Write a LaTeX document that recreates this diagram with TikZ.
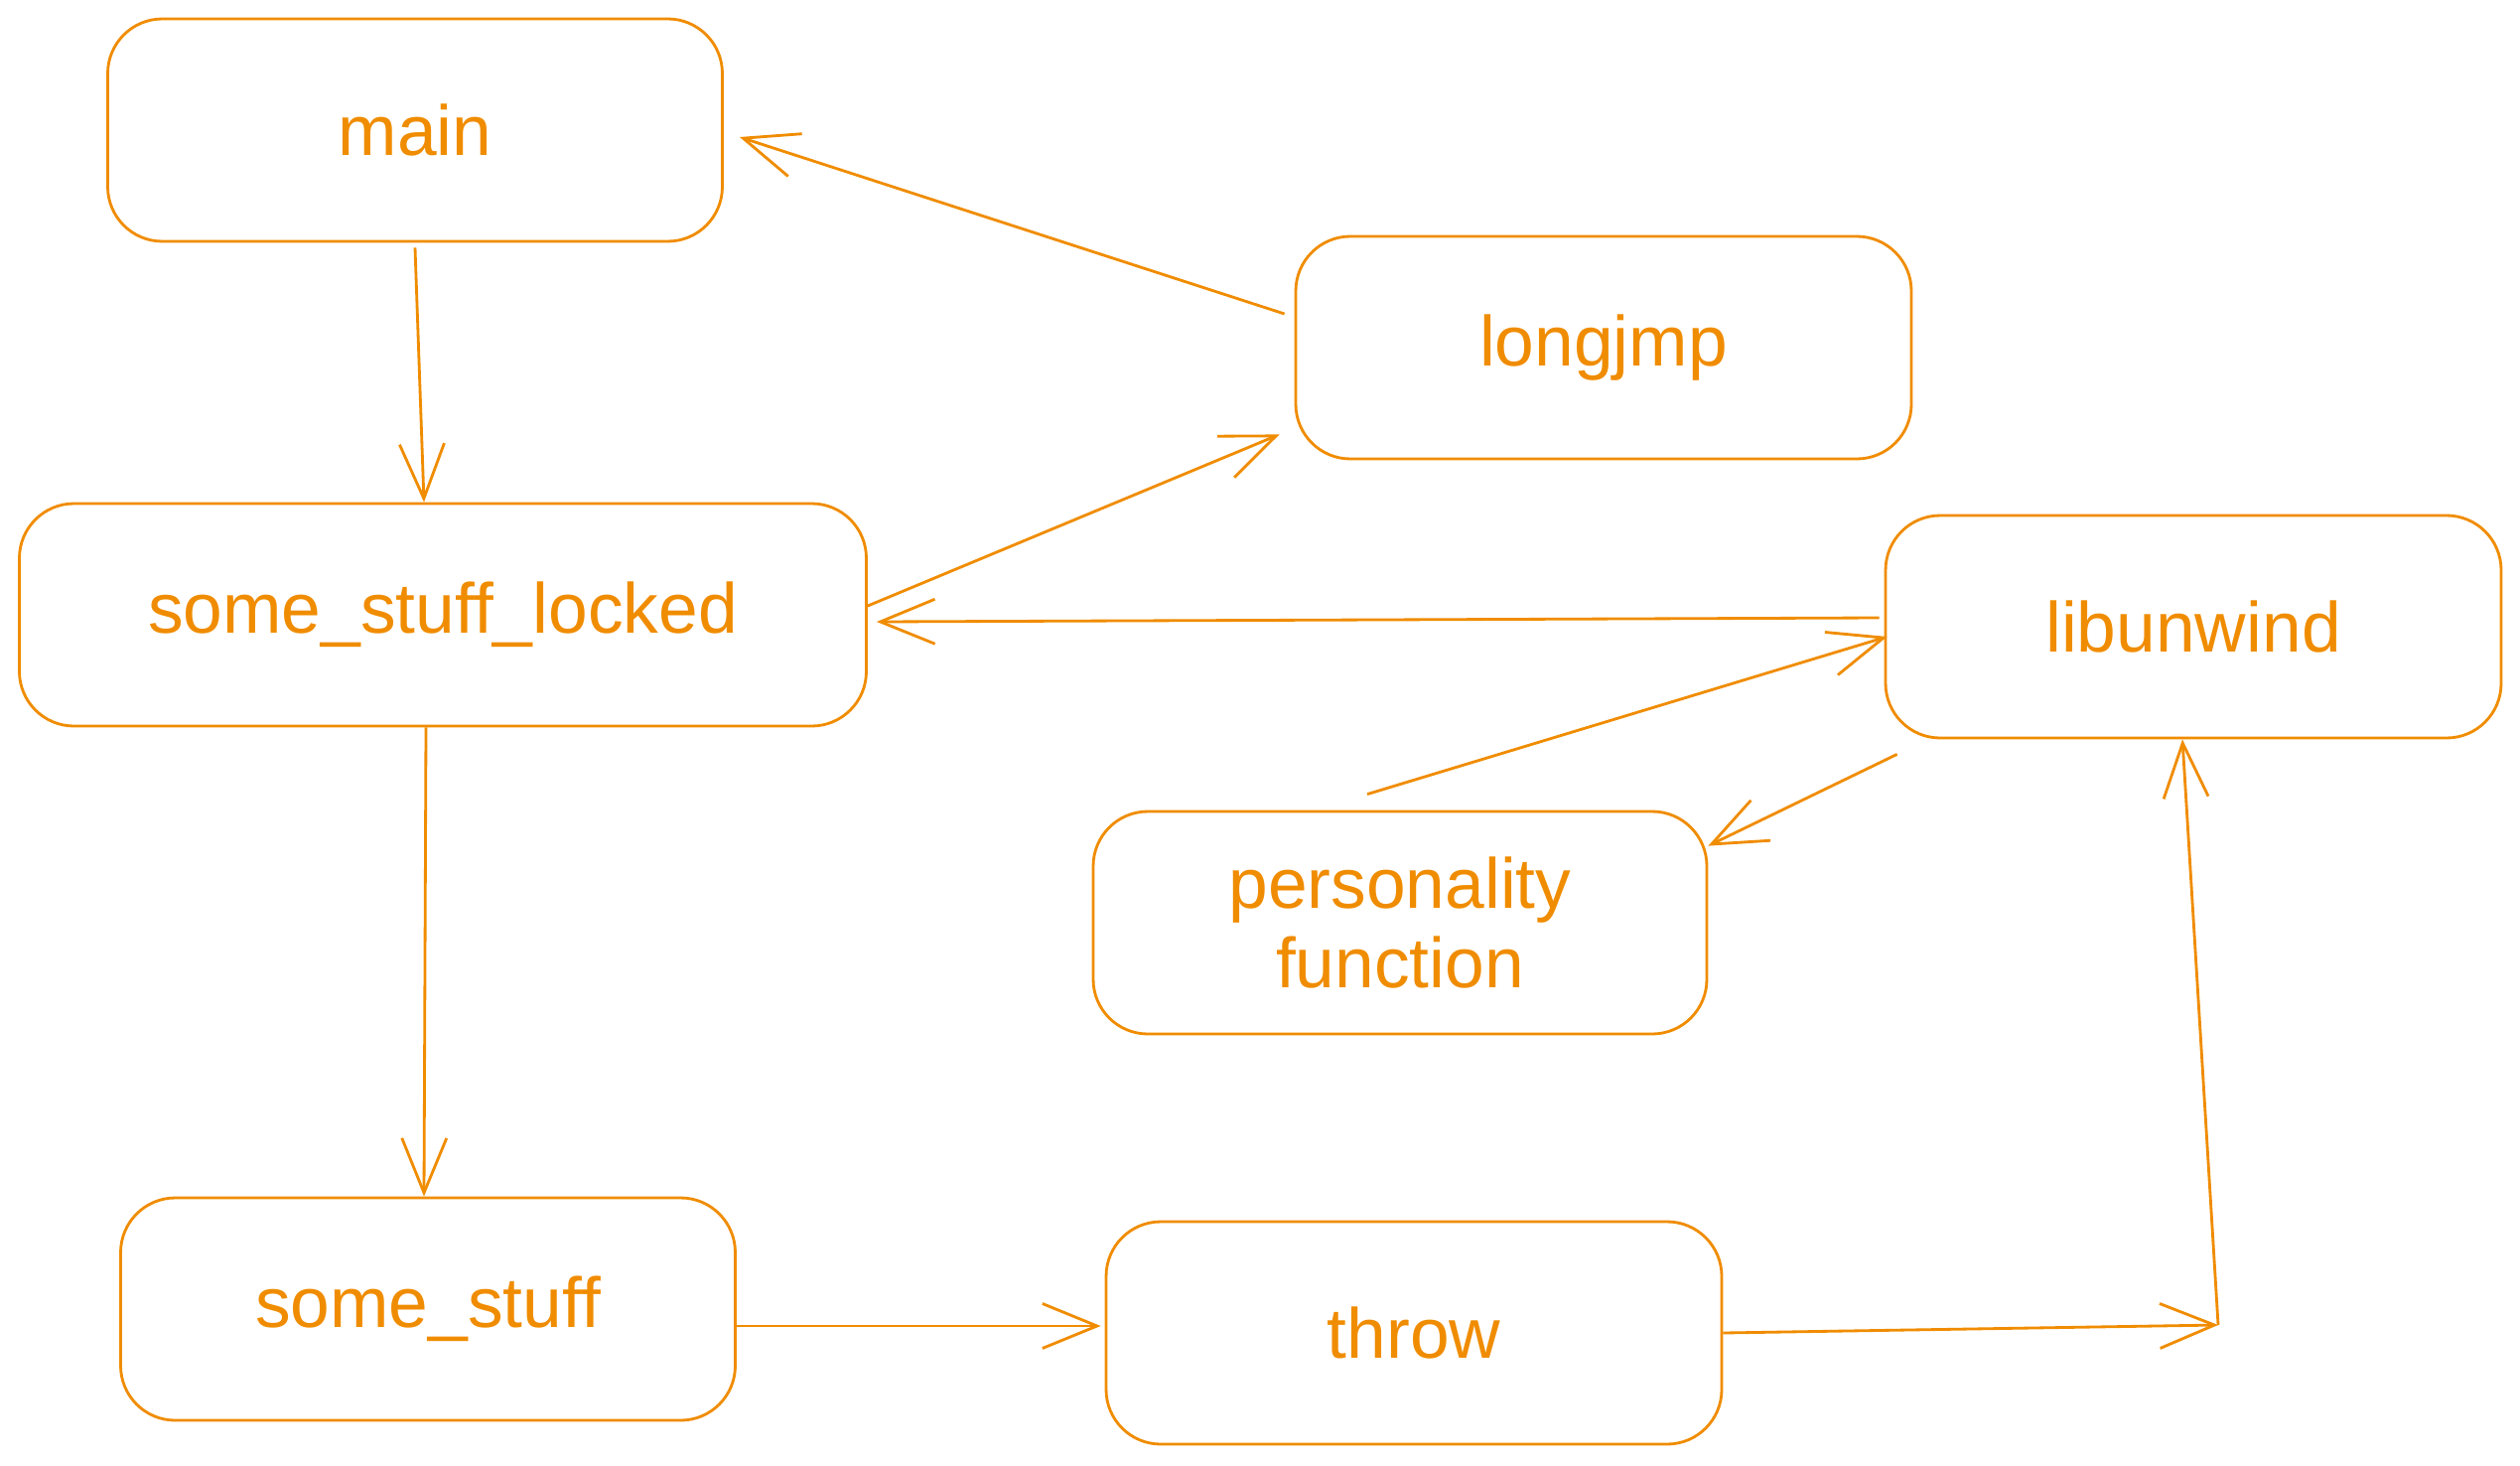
\documentclass[tikz,border=0pt]{standalone}
\usepackage{fontspec}
\setmainfont{Liberation Sans}
\usetikzlibrary{arrows.meta}
\definecolor{pen}{HTML}{F08C00}
\tikzstyle{block}=[draw=pen,line width=0.8pt,rounded corners=0.55cm,minimum height=2.24cm,inner sep=0pt,align=center,text=pen,font=\fontsize{20.3}{23}\selectfont]
\tikzstyle{edge} = [draw=pen,line width=0.8pt,line join=round,-{Straight Barb[length=0.55cm,width=0.45cm]}]

\begin{document}
\begin{tikzpicture}
    \useasboundingbox (0,0) rectangle (25.38,-14.75);
    % First we draw the boxes
    \foreach \pos/\name/\bw/\txt in {{(4.18,-1.31)/main/6.19/main}, {(16.15,-3.50)/longjmp/6.20/longjmp},
        {(4.46,-6.19)/ssl/8.53/some\_stuff\_locked}, {(22.09,-6.31)/libunwind/6.20/libunwind},
        {(14.10,-9.29)/pers/6.18/personality\\function}, {(4.31,-13.18)/ss/6.19/some\_stuff},
        {(14.24,-13.42)/throw/6.20/throw}}
        \node[block, minimum width=\bw cm] (\name) at \pos {\txt};
    \coordinate (corner) at (22.34,-13.34);
    % Connect boxes with arrows
    \path[edge] ([yshift=-0.05cm]main.south) -- ([xshift=-0.19cm]ssl.north);
    \path[edge] ([xshift=-0.10cm,yshift=0.34cm]longjmp.west) -- ([xshift=0.16cm,yshift=-0.07cm]main.east);
    \path[edge] ([yshift=0.09cm]ssl.east) -- ([xshift=-0.15cm,yshift=0.26cm]longjmp.south west);
    \path[edge] ([xshift=-0.05cm,yshift=0.09cm]libunwind.west) -- ([xshift=0.09cm,yshift=-0.07cm]ssl.east);
    \path[edge] ([xshift=-0.33cm,yshift=0.16cm]pers.north) -- ([xshift=0.03cm,yshift=-0.10cm]libunwind.west);
    \path[edge] ([xshift=0.13cm,yshift=-0.15cm]libunwind.south west) -- ([yshift=-0.36cm]pers.north east);
    \path[edge] ([xshift=-0.17cm]ssl.south) -- ([xshift=-0.04cm]ss.north);
    \path[edge] ([yshift=-0.17cm]ss.east) -- ([xshift=-0.04cm,yshift=0.07cm]throw.west);
    \path[edge] (throw.east) -- (corner);
    \path[edge] (corner) -- ([xshift=-0.11cm]libunwind.south);
\end{tikzpicture}
\end{document}
